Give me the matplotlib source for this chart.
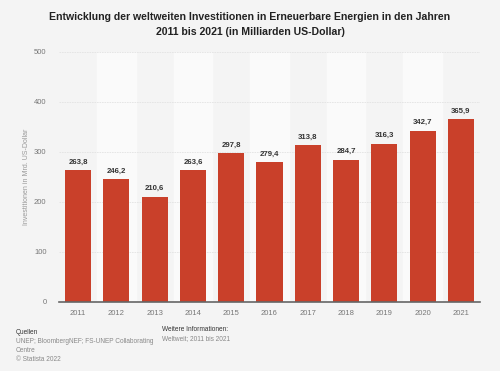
import matplotlib; matplotlib.use("Agg")
import matplotlib.pyplot as plt

plt.rcParams["font.family"] = ["Liberation Sans", "DejaVu Sans"]

years = ["2011", "2012", "2013", "2014", "2015", "2016", "2017", "2018", "2019", "2020", "2021"]
values = [263.8, 246.2, 210.6, 263.6, 297.8, 279.4, 313.8, 284.7, 316.3, 342.7, 365.9]
yticks = [0, 100, 200, 300, 400, 500]

bg = "#f4f4f4"
fig = plt.figure(figsize=(5, 3.71), dpi=100, facecolor=bg)
ax = fig.add_axes([0.118, 0.186, 0.842, 0.674], facecolor=bg)

x = list(range(len(years)))
for i in x:
    if i % 2 == 1:
        ax.axvspan(i - 0.5, i + 0.5, color="#fafafa", zorder=0)
for t in yticks[1:]:
    ax.axhline(t, color="#e3e3e3", lw=0.6, ls=(0, (2, 1)), zorder=1)

ax.bar(x, values, width=0.68, color="#c9402a", zorder=2)
for i, v in zip(x, values):
    ax.text(i, v + 9, f"{v:.1f}".replace(".", ","), ha="center", va="bottom",
            fontsize=5.6, color="#333333", fontweight="bold", zorder=3)

ax.set_xlim(-0.5, len(years) - 0.5)
ax.set_ylim(0, 500)
ax.set_xticks(x, years)
ax.set_yticks(yticks)
ax.tick_params(axis="both", length=0, labelsize=5.5, colors="#777777")
ax.tick_params(axis="x", pad=6)
ax.tick_params(axis="y", pad=9)
for s in ["top", "right", "left"]:
    ax.spines[s].set_visible(False)
ax.spines["bottom"].set_color("#666666")
ax.spines["bottom"].set_linewidth(1.2)
ax.set_ylabel("Investitionen in Mrd. US-Dollar", fontsize=5, color="#999999")
ax.yaxis.set_label_coords(-0.07, 0.5)

fig.text(0.5, 0.968, "Entwicklung der weltweiten Investitionen in Erneuerbare Energien in den Jahren\n2011 bis 2021 (in Milliarden US-Dollar)",
         ha="center", va="top", fontsize=7.6, fontweight="bold", color="#222222", linespacing=1.6)

fig.text(0.032, 0.112, "Quellen", fontsize=4.7, color="#333333", va="top")
fig.text(0.032, 0.09, "UNEP; BloombergNEF; FS-UNEP Collaborating\nCentre\n© Statista 2022",
         fontsize=4.7, color="#888888", linespacing=1.45, va="top")
fig.text(0.325, 0.12, "Weitere Informationen:", fontsize=4.7, color="#333333", va="top")
fig.text(0.325, 0.097, "Weltweit; 2011 bis 2021", fontsize=4.7, color="#888888", va="top")

plt.savefig("out.png", dpi=100, facecolor=bg)
print("Saved out.png")
